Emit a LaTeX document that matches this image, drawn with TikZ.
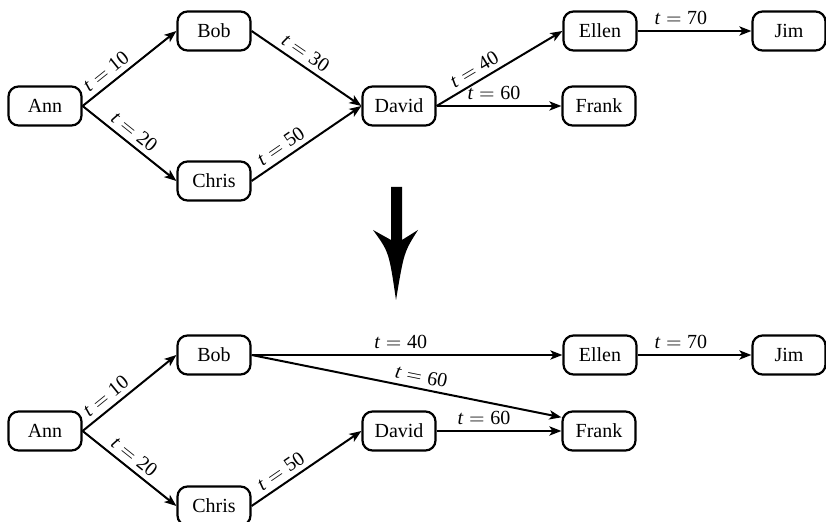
\documentclass[tikz,border=0pt]{standalone}
\usepackage{fontspec}
\setmainfont{Liberation Serif}
\usetikzlibrary{arrows.meta}
\newcommand{\tval}[1]{\textit{t}${}={}$#1}

\begin{document}
\begin{tikzpicture}[x=0.5pt,y=-0.5pt]
		\tikzset{person/.style={draw, line width=1.1pt, rounded corners=5pt, minimum width=36.5pt, minimum height=19.5pt, inner sep=0pt, font=\fontsize{10}{12}\selectfont}};
		\tikzset{flow/.style={-{Stealth[length=6pt,width=4.6pt,inset=1.5pt]}, line width=1pt}};
		\tikzset{tlabel/.style={sloped, above, inner sep=2.4pt, font=\fontsize{10}{12}\selectfont}};
		\useasboundingbox (0,0) rectangle (826,522);
		
		% before
		\node[person] (ann1) at (45,106) {Ann};
		\node[person] (bob1) at (214,31) {Bob};
		\node[person] (chris1) at (214,181) {Chris};
		\node[person] (david1) at (399,106) {David};
		\node[person] (ellen1) at (600,31) {Ellen};
		\node[person] (frank1) at (599,106) {Frank};
		\node[person] (jim1) at (789,31) {Jim};
		\draw[flow] (ann1.east) -- node[tlabel, pos=0.33] {\tval{10}} (bob1.west);
		\draw[flow] (ann1.east) -- node[tlabel, pos=0.47] {\tval{20}} (chris1.west);
		\draw[flow] (bob1.east) -- node[tlabel, pos=0.43] {\tval{30}} (david1.west);
		\draw[flow] (chris1.east) -- node[tlabel, pos=0.33] {\tval{50}} (david1.west);
		\draw[flow] (david1.east) -- node[tlabel, pos=0.35] {\tval{40}} (ellen1.west);
		\draw[flow] (david1.east) -- node[tlabel, pos=0.46] {\tval{60}} (frank1.west);
		\draw[flow] (ellen1.east) -- node[tlabel, pos=0.38] {\tval{70}} (jim1.west);
		
		% big arrow
		\fill[black] (391,187) -- (402,187) -- (402,240) -- (418,230) .. controls (404,252) .. (396,300) .. controls (389,252) .. (373,230) -- (391,240) -- cycle;
		
		% after
		\node[person] (ann2) at (45,431) {Ann};
		\node[person] (bob2) at (214,355) {Bob};
		\node[person] (chris2) at (214,506) {Chris};
		\node[person] (david2) at (399,431) {David};
		\node[person] (ellen2) at (600,355) {Ellen};
		\node[person] (frank2) at (599,431) {Frank};
		\node[person] (jim2) at (789,355) {Jim};
		\draw[flow] (ann2.east) -- node[tlabel, pos=0.33] {\tval{10}} (bob2.west);
		\draw[flow] (ann2.east) -- node[tlabel, pos=0.47] {\tval{20}} (chris2.west);
		\draw[flow] (chris2.east) -- node[tlabel, pos=0.33] {\tval{50}} (david2.west);
		\draw[flow] (bob2.east) -- node[tlabel, pos=0.48] {\tval{40}} (ellen2.west);
		\draw[flow] (bob2.east) -- node[tlabel, pos=0.54] {\tval{60}} (frank2.160);
		\draw[flow] (david2.east) -- node[tlabel, pos=0.38] {\tval{60}} (frank2.west);
		\draw[flow] (ellen2.east) -- node[tlabel, pos=0.38] {\tval{70}} (jim2.west);
		
	\end{tikzpicture}
\end{document}
